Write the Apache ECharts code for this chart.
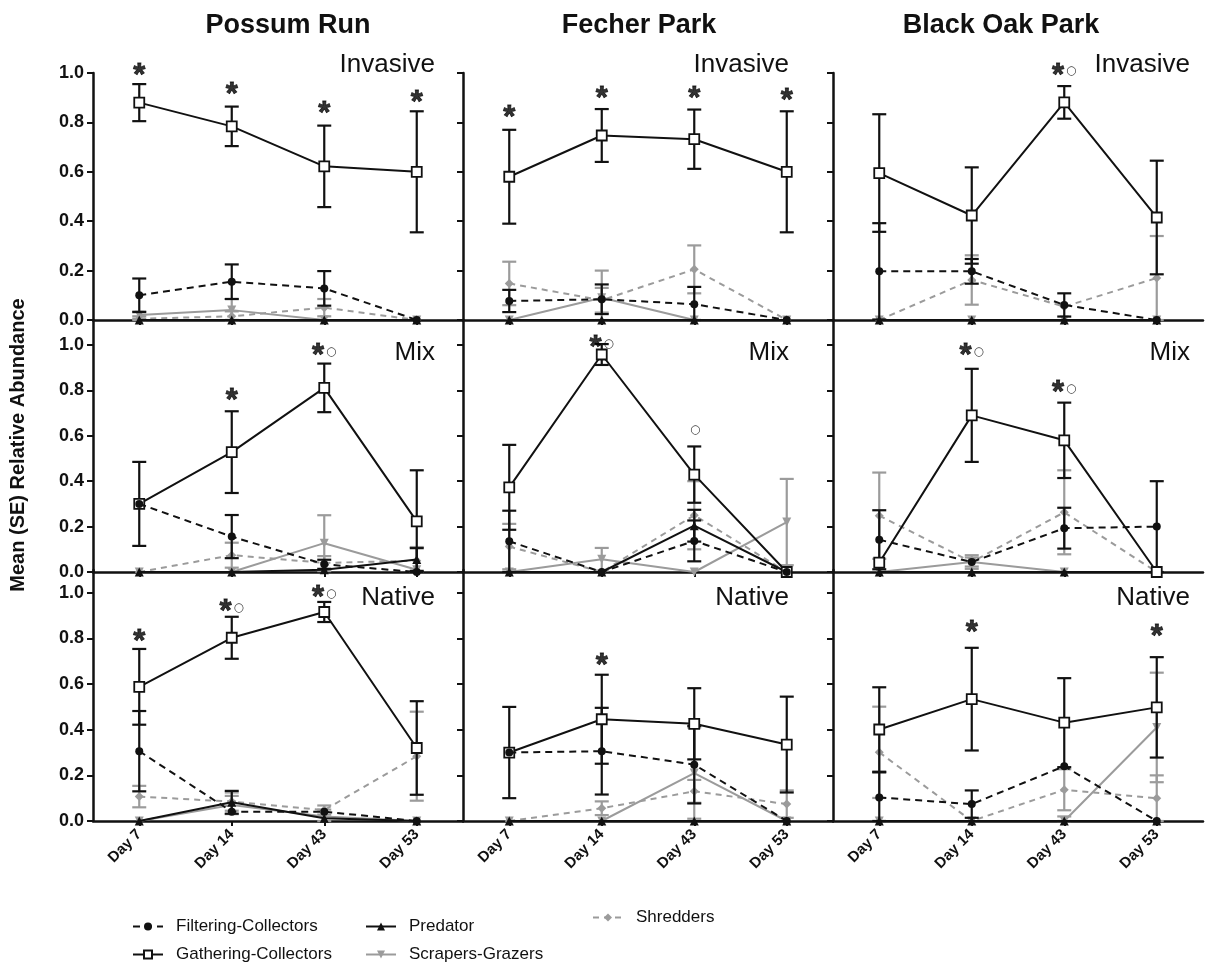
<!DOCTYPE html>
<html>
<head>
<meta charset="utf-8">
<script src="https://cdn.jsdelivr.net/npm/echarts@6/dist/echarts.min.js"></script>
<style>
  html, body { margin: 0; padding: 0; background: #fff; }
  #chart { width: 1210px; height: 964px; }
</style>
</head>
<body>
<div id="chart"></div>
<script>
const days = ['Day 7', 'Day 14', 'Day 43', 'Day 53'];
const sites = ['Possum Run', 'Fecher Park', 'Black Oak Park'];
const habitats = ['Invasive', 'Mix', 'Native'];
const yTicks = [0, 0.2, 0.4, 0.6, 0.8, 1.0];

// panels in reading order: Invasive (PR, FP, BOP), Mix (...), Native (...)
const filtering = [
  [0.10, 0.155, 0.128, 0], [0.077, 0.084, 0.064, 0], [0.197, 0.197, 0.061, 0],
  [0.30, 0.156, 0.034, 0], [0.135, 0, 0.137, 0], [0.142, 0.044, 0.193, 0.20],
  [0.306, 0.041, 0.041, 0], [0.30, 0.306, 0.247, 0], [0.103, 0.074, 0.24, 0]
];
const filteringSE = [
  [0.068, 0.07, 0.07, 0], [0.045, 0.06, 0.07, 0], [0.195, 0.05, 0.047, 0],
  [0, 0.095, 0.02, 0], [0.135, 0, 0.09, 0], [0.13, 0, 0.09, 0.20],
  [0.176, 0, 0, 0], [0, 0.19, 0.17, 0], [0.11, 0.06, 0, 0]
];
const gathering = [
  [0.88, 0.784, 0.622, 0.60], [0.58, 0.747, 0.732, 0.60], [0.595, 0.423, 0.881, 0.415],
  [0.30, 0.528, 0.811, 0.223], [0.373, 0.958, 0.429, 0], [0.041, 0.69, 0.58, 0],
  [0.588, 0.803, 0.916, 0.32], [0.30, 0.446, 0.426, 0.335], [0.401, 0.534, 0.431, 0.498]
];
const gatheringSE = [
  [0.075, 0.08, 0.165, 0.245], [0.19, 0.107, 0.12, 0.245], [0.238, 0.195, 0.066, 0.23],
  [0.185, 0.18, 0.107, 0.225], [0.187, 0.046, 0.124, 0], [0, 0.205, 0.166, 0],
  [0.166, 0.092, 0.044, 0.205], [0.20, 0.195, 0.156, 0.21], [0.185, 0.225, 0.195, 0.22]
];
const predator = [
  [0, 0, 0, 0], [0, 0, 0, 0], [0, 0, 0, 0],
  [0, 0, 0.01, 0.055], [0, 0, 0.204, 0], [0, 0, 0, 0],
  [0, 0.082, 0.012, 0], [0, 0, 0, 0], [0, 0, 0, 0]
];
const predatorSE = [
  [0, 0, 0, 0], [0, 0, 0, 0], [0, 0, 0, 0],
  [0, 0, 0, 0.05], [0, 0, 0.07, 0], [0, 0, 0, 0],
  [0, 0.05, 0, 0], [0, 0, 0, 0], [0, 0, 0, 0]
];
const scrapers = [
  [0.02, 0.04, 0, 0], [0, 0.09, 0, 0], [0, 0, 0, 0],
  [0, 0, 0.127, 0.01], [0, 0.056, 0, 0.22], [0, 0.044, 0, 0],
  [0, 0.07, 0.02, 0], [0, 0, 0.21, 0], [0, 0, 0, 0.41]
];
const scrapersSE = [
  [0.015, 0.045, 0, 0], [0, 0.11, 0, 0], [0, 0, 0, 0],
  [0, 0, 0.123, 0], [0, 0.05, 0, 0.19], [0, 0.03, 0, 0],
  [0, 0.04, 0.03, 0], [0, 0, 0.20, 0], [0, 0, 0.02, 0.24]
];
const shredders = [
  [0.005, 0.015, 0.05, 0], [0.148, 0.08, 0.205, 0], [0, 0.162, 0.054, 0.17],
  [0, 0.074, 0.04, 0.05], [0.112, 0, 0.25, 0], [0.248, 0.044, 0.263, 0],
  [0.107, 0.085, 0.048, 0.284], [0, 0.056, 0.13, 0.074], [0.301, 0, 0.137, 0.10]
];
const shreddersSE = [
  [0.01, 0.02, 0.035, 0], [0.088, 0.05, 0.097, 0], [0, 0.10, 0, 0.17],
  [0, 0.055, 0.03, 0.06], [0.10, 0, 0.15, 0], [0.19, 0.02, 0.185, 0],
  [0.047, 0.04, 0.02, 0.195], [0, 0.03, 0.05, 0.06], [0.20, 0, 0.09, 0.10]
];
// significance marks: [panel, day index, height, text]  (* = asterisk, o = circle)
const marks = [
  [0, 0, 1.02, '*'], [0, 1, 0.94, '*'], [0, 2, 0.865, '*'], [0, 3, 0.91, '*'],
  [1, 0, 0.847, '*'], [1, 1, 0.926, '*'], [1, 2, 0.926, '*'], [1, 3, 0.916, '*'],
  [2, 2, 1.02, '*o'],
  [3, 1, 0.786, '*'], [3, 2, 0.985, '*o'],
  [4, 1, 1.02, '*o'], [4, 2, 0.64, 'o'],
  [5, 1, 0.985, '*o'], [5, 2, 0.82, '*o'],
  [6, 0, 0.818, '*'], [6, 1, 0.949, '*o'], [6, 2, 1.01, '*o'],
  [7, 1, 0.713, '*'],
  [8, 1, 0.857, '*'], [8, 3, 0.84, '*']
];

const FONT = '"Liberation Sans", Arial, sans-serif';
const BLACK = '#111';
const GREY = '#9b9b9b';
const colLeft = [93, 463, 833];
const rowTop = [73, 320, 570];
const rowH = [247, 252, 251];
const rowMax = [1.0, 1.11, 1.1];

const groups = [
  { name: 'Filtering-Collectors', mean: filtering, se: filteringSE, grey: false,
    symbol: 'circle', size: 8, dash: [7, 5], fill: BLACK },
  { name: 'Gathering-Collectors', mean: gathering, se: gatheringSE, grey: false,
    symbol: 'rect', size: 10, dash: 'solid', fill: '#fff' },
  { name: 'Predator', mean: predator, se: predatorSE, grey: false,
    symbol: 'triangle', size: 9, dash: 'solid', fill: BLACK },
  { name: 'Scrapers-Grazers', mean: scrapers, se: scrapersSE, grey: true,
    symbol: 'triangle', size: 9, dash: 'solid', fill: GREY, rotate: 180 },
  { name: 'Shredders', mean: shredders, se: shreddersSE, grey: true,
    symbol: 'diamond', size: 9, dash: [6, 5], fill: GREY }
];
// drawing order: grey first, then black, GC, FC on top
const drawOrder = [3, 4, 2, 1, 0];

function renderBar(params, api) {
  const x = api.value(0);
  const top = api.coord([x, api.value(2)]);
  const bot = api.coord([x, api.value(1)]);
  const color = api.value(3) ? GREY : BLACK;
  const w = 7;
  const st = { stroke: color, lineWidth: 2.2 };
  return {
    type: 'group',
    children: [
      { type: 'line', shape: { x1: top[0], y1: top[1], x2: bot[0], y2: bot[1] }, style: st },
      { type: 'line', shape: { x1: top[0] - w, y1: top[1], x2: top[0] + w, y2: top[1] }, style: st },
      { type: 'line', shape: { x1: bot[0] - w, y1: bot[1], x2: bot[0] + w, y2: bot[1] }, style: st }
    ]
  };
}

function markText(t) {
  return t.split('').map(ch => ch === '*' ? '{s|*}' : '{c|\u25CB}').join('');
}

// one legend block per entry, placed like the original two-row key
const legendSpots = [
  ['Filtering-Collectors', 127, 913], ['Gathering-Collectors', 127, 941],
  ['Predator', 360, 913], ['Scrapers-Grazers', 360, 941], ['Shredders', 587, 904]
];

const option = {
  animation: false,
  backgroundColor: '#fff',
  textStyle: { fontFamily: FONT },
  grid: [], xAxis: [], yAxis: [], series: [],
  legend: legendSpots.map(l => ({
    left: l[1], top: l[2], itemWidth: 30, itemHeight: 10, selectedMode: false,
    textStyle: { fontSize: 17, color: BLACK, fontFamily: FONT, padding: [0, 0, 0, 8] },
    data: [l[0]]
  })),
  graphic: []
};

const titleX = [288, 639, 1001];
sites.forEach((s, i) => {
  option.graphic.push({ type: 'text', x: titleX[i], y: 12,
    style: { text: s, font: 'bold 27px ' + FONT, fill: BLACK, textAlign: 'center', textVerticalAlign: 'top' } });
});
const habRight = [435, 789, 1190];
const habY = [65, 353, 598];
habitats.forEach((h, r) => {
  habRight.forEach(x => {
    option.graphic.push({ type: 'text', x: x, y: habY[r],
      style: { text: h, font: '26px ' + FONT, fill: BLACK, textAlign: 'right', textVerticalAlign: 'middle' } });
  });
});
option.graphic.push({ type: 'text', x: 18, y: 445, rotation: Math.PI / 2,
  style: { text: 'Mean (SE) Relative Abundance', font: 'bold 20px ' + FONT, fill: BLACK,
    textAlign: 'center', textVerticalAlign: 'middle' } });

for (let p = 0; p < 9; p++) {
  const r = Math.floor(p / 3), c = p % 3;
  option.grid.push({ left: colLeft[c], top: rowTop[r], width: 370, height: rowH[r] });
  option.xAxis.push({
    gridIndex: p, type: 'category', data: days, boundaryGap: true,
    axisLine: { lineStyle: { color: BLACK, width: 2.5 } },
    axisTick: { show: true, alignWithLabel: true, length: 5, lineStyle: { color: BLACK, width: 2 } },
    axisLabel: { show: r === 2, interval: 0, rotate: 45, fontSize: 15, fontWeight: 'bold',
      color: BLACK, margin: 11 },
    splitLine: { show: false }
  });
  option.yAxis.push({
    gridIndex: p, type: 'value', min: 0, max: rowMax[r], interval: 0.2,
    axisLine: { show: true, lineStyle: { color: BLACK, width: 2.5 } },
    axisTick: { show: true, length: 6, customValues: yTicks, lineStyle: { color: BLACK, width: 2 } },
    axisLabel: { show: c === 0, customValues: yTicks, formatter: v => v.toFixed(1),
      fontSize: 18, fontWeight: 'bold', color: BLACK, margin: 9 },
    splitLine: { show: false }
  });

  const greyBars = [], blackBars = [];
  groups.forEach(g => {
    g.mean[p].forEach((m, d) => {
      const e = g.se[p][d];
      if (e > 0) (g.grey ? greyBars : blackBars).push([d, Math.max(0, m - e), m + e, g.grey ? 1 : 0]);
    });
  });
  option.series.push({ type: 'custom', xAxisIndex: p, yAxisIndex: p, renderItem: renderBar,
    data: greyBars, z: 2, silent: true, clip: false });
  drawOrder.forEach((gi, k) => {
    const g = groups[gi];
    const lineColor = g.grey ? GREY : BLACK;
    option.series.push({
      name: g.name, type: 'line', xAxisIndex: p, yAxisIndex: p,
      data: g.mean[p], symbol: g.symbol, symbolSize: g.size, symbolRotate: g.rotate || 0,
      showSymbol: true, clip: false, z: 3 + k,
      lineStyle: { color: lineColor, width: 2, type: g.dash },
      itemStyle: { color: g.fill, borderColor: lineColor, borderWidth: g.symbol === 'rect' ? 1.8 : 0 }
    });
    if (k === 1) {
      option.series.push({ type: 'custom', xAxisIndex: p, yAxisIndex: p, renderItem: renderBar,
        data: blackBars, z: 5, silent: true, clip: false });
    }
  });
  option.series.push({
    type: 'scatter', xAxisIndex: p, yAxisIndex: p, symbolSize: 0, z: 20, silent: true, clip: false,
    data: marks.filter(m => m[0] === p).map(m => [m[1], m[2], m[3]]),
    label: {
      show: true, position: 'inside', offset: [0, 8],
      formatter: q => markText(q.value[2]),
      rich: {
        s: { fontSize: 31, fontWeight: 'bold', color: '#000', fontFamily: FONT,
          textBorderColor: '#000', textBorderWidth: 0.8 },
        c: { fontSize: 12, color: '#000', fontFamily: '"DejaVu Sans", sans-serif', padding: [0, 0, 10, 2] }
      }
    }
  });
}

const chart = echarts.init(document.getElementById('chart'));
chart.setOption(option);
window.onresize = function () { chart.resize(); };
</script>
</body>
</html>
